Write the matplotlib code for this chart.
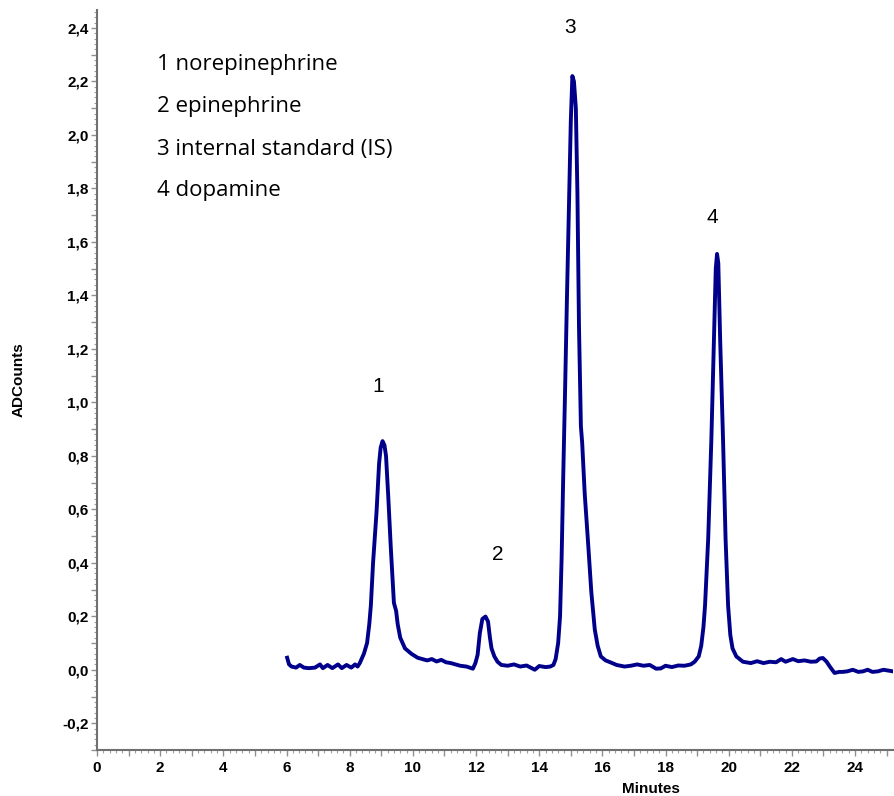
import numpy as np
import matplotlib
matplotlib.use('Agg')
import matplotlib.pyplot as plt
from matplotlib.ticker import MultipleLocator, FuncFormatter

# chromatogram trace: (minutes, ADCounts)
trace = [
  (6.02, 0.045), (6.08, 0.02), (6.16, 0.012), (6.3, 0.008), (6.42, 0.018),
  (6.55, 0.008), (6.7, 0.006), (6.9, 0.008), (7.06, 0.02), (7.15, 0.006),
  (7.3, 0.018), (7.45, 0.006), (7.63, 0.02), (7.75, 0.006), (7.9, 0.018),
  (8.05, 0.008), (8.17, 0.02), (8.25, 0.012), (8.32, 0.025),
  # peak 1
  (8.45, 0.06), (8.55, 0.10), (8.62, 0.17), (8.67, 0.24), (8.74, 0.40),
  (8.85, 0.59), (8.93, 0.77), (8.98, 0.83), (9.04, 0.855), (9.10, 0.84),
  (9.15, 0.80), (9.22, 0.65), (9.30, 0.46), (9.40, 0.25), (9.47, 0.22),
  (9.52, 0.17), (9.60, 0.12), (9.75, 0.08), (9.95, 0.06), (10.15, 0.045),
  (10.3, 0.04), (10.45, 0.035), (10.6, 0.04), (10.75, 0.031), (10.9, 0.037),
  (11.05, 0.028), (11.2, 0.025), (11.35, 0.02), (11.5, 0.015), (11.7, 0.012),
  (11.9, 0.004),
  # peak 2
  (11.98, 0.025), (12.05, 0.056), (12.12, 0.137), (12.2, 0.19), (12.3, 0.199),
  (12.38, 0.18), (12.44, 0.12), (12.49, 0.08), (12.58, 0.05), (12.68, 0.03),
  (12.8, 0.018), (13.0, 0.015), (13.2, 0.02), (13.4, 0.012), (13.6, 0.016),
  (13.86, 0.0), (14.0, 0.014), (14.2, 0.01), (14.35, 0.012), (14.45, 0.018),
  # peak 3
  (14.52, 0.04), (14.6, 0.10), (14.66, 0.20), (14.71, 0.42), (14.76, 0.72),
  (14.82, 1.05), (14.88, 1.40), (14.95, 1.78), (15.0, 2.05), (15.05, 2.22),
  (15.1, 2.20), (15.16, 2.10), (15.21, 1.78), (15.26, 1.28), (15.32, 0.91),
  (15.36, 0.85), (15.44, 0.66), (15.55, 0.47), (15.65, 0.29), (15.76, 0.15),
  (15.85, 0.09), (15.95, 0.05), (16.1, 0.035), (16.25, 0.028), (16.45, 0.018),
  (16.7, 0.012), (16.9, 0.015), (17.1, 0.02), (17.3, 0.015), (17.5, 0.018),
  (17.7, 0.004), (17.85, 0.005), (18.0, 0.015), (18.2, 0.01), (18.4, 0.016),
  (18.6, 0.015), (18.8, 0.02), (18.92, 0.03),
  # peak 4
  (19.05, 0.05), (19.13, 0.09), (19.20, 0.16), (19.25, 0.24), (19.35, 0.49),
  (19.45, 0.86), (19.53, 1.23), (19.59, 1.50), (19.63, 1.555), (19.67, 1.52),
  (19.73, 1.23), (19.82, 0.86), (19.90, 0.49), (19.98, 0.24), (20.05, 0.13),
  (20.12, 0.08), (20.24, 0.05), (20.45, 0.03), (20.7, 0.025), (20.9, 0.032),
  (21.1, 0.025), (21.3, 0.03), (21.5, 0.028), (21.66, 0.04), (21.8, 0.03),
  (22.03, 0.04), (22.2, 0.032), (22.4, 0.035), (22.6, 0.03), (22.77, 0.031),
  (22.88, 0.042), (22.98, 0.044), (23.1, 0.03), (23.2, 0.012), (23.35, -0.012),
  (23.5, -0.008), (23.6, -0.008), (23.75, -0.006), (23.93, 0.0), (24.1, -0.008),
  (24.25, -0.006), (24.4, 0.0), (24.55, -0.008), (24.72, -0.006), (24.9, 0.0),
  (25.15, -0.005),
]
minutes = [p[0] for p in trace]
adc = [p[1] for p in trace]

peak_labels = ['1', '2', '3', '4']
peak_label_x = [8.89, 12.69, 14.97, 19.49]
peak_label_y = [1.06, 0.43, 2.40, 1.69]

legend_lines = ['1 norepinephrine', '2 epinephrine',
                '3 internal standard (IS)', '4 dopamine']

fig = plt.figure(figsize=(8.94, 7.96), dpi=100)
ax = fig.add_axes([0.1085, 0.0578, 0.890, 0.9296])

ax.plot(minutes, adc, color='#00008b', lw=2.8, solid_joinstyle='round')

ax.set_xlim(0, 25.19)
ax.set_ylim(-0.3, 2.467)

for s in ['top', 'right']:
  ax.spines[s].set_visible(False)
for s in ['left', 'bottom']:
  ax.spines[s].set_color('#707070')
  ax.spines[s].set_linewidth(1.5)

ax.xaxis.set_major_locator(MultipleLocator(1))
ax.xaxis.set_minor_locator(MultipleLocator(0.2))
ax.yaxis.set_major_locator(MultipleLocator(0.1))
ax.yaxis.set_minor_locator(MultipleLocator(0.02))

def fmt_x(v, pos):
  if int(round(v)) % 2 == 0:
    return '%d' % round(v)
  return ''

def fmt_y(v, pos):
  k = int(round(v * 10))
  if k % 2 == 0:
    return ('%.1f' % (k / 10.0)).replace('.', ',')
  return ''

ax.xaxis.set_major_formatter(FuncFormatter(fmt_x))
ax.yaxis.set_major_formatter(FuncFormatter(fmt_y))
ax.tick_params(which='major', length=4, width=1, color='#909090')
ax.tick_params(which='minor', length=2, width=0.8, color='#a0a0a0')
ax.tick_params(axis='x', which='major', pad=4)
ax.tick_params(axis='y', which='major', pad=2)
for lab in ax.get_xticklabels() + ax.get_yticklabels():
  lab.set_fontfamily('Liberation Sans')
  lab.set_fontweight('bold')
  lab.set_fontsize(11)

ax.set_ylabel('ADCounts', fontfamily='Liberation Sans', fontweight='bold', fontsize=11)
ax.yaxis.set_label_coords(-0.09, 0.5)
ax.set_xlabel('Minutes', fontfamily='Liberation Sans', fontweight='bold', fontsize=11)
ax.xaxis.set_label_coords(0.696, -0.043)

for i in range(len(peak_labels)):
  ax.text(peak_label_x[i], peak_label_y[i], peak_labels[i], ha='center', va='center',
          fontfamily='Liberation Sans', fontsize=15)

legend_y = [2.262, 2.105, 1.944, 1.794]
for i in range(len(legend_lines)):
  ax.text(1.9, legend_y[i], legend_lines[i], ha='left', va='center',
          fontfamily='Open Sans', fontsize=16)

fig.savefig('out.png', dpi=100)
